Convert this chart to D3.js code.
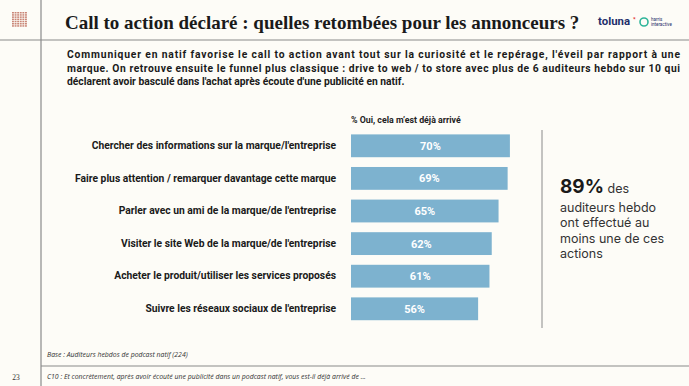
<!DOCTYPE html>
<html>
<head>
<meta charset="utf-8">
<script src="https://cdn.jsdelivr.net/npm/d3@7"></script>
<style>
  body { margin: 0; background: #fdfcf7; }
  svg { display: block; }
</style>
</head>
<body>
<div id="chart"></div>
<script>
const WIDTH = 689, HEIGHT = 386;

// data
const categories = [
    "Chercher des informations sur la marque/l'entreprise",
    "Faire plus attention / remarquer davantage cette marque",
    "Parler avec un ami de la marque/de l'entreprise",
    "Visiter le site Web de la marque/de l'entreprise",
    "Acheter le produit/utiliser les services proposés",
    "Suivre les réseaux sociaux de l'entreprise"
];
const values = [70, 69, 65, 62, 61, 56];

const titleText = "Call to action déclaré : quelles retombées pour les annonceurs ?";
const introLines = [
    "Communiquer en natif favorise le call to action avant tout sur la curiosité et le repérage, l'éveil par rapport à une",
    "marque. On retrouve ensuite le funnel plus classique : drive to web / to store avec plus de 6 auditeurs hebdo sur 10 qui",
    "déclarent avoir basculé dans l'achat après écoute d'une publicité en natif."
];
const seriesLabel = "% Oui, cela m’est déjà arrivé";
const keyFigure = "89%";
const keyLines = ["des", "auditeurs hebdo", "ont effectué au", "moins une de ces", "actions"];
const baseNote = "Base : Auditeurs hebdos de podcast natif (224)";
const questionNote = "C10 :  Et concrètement, après avoir écouté une publicité dans un podcast natif, vous est-il déjà arrivé de ...";
const pageNumber = "23";

const BAR_COLOR = '#7db2cf';
const LINE_COLOR = '#8a8a8a';
const SANS = 'Roboto, "Noto Sans", sans-serif';

const svg = d3.select('#chart').append('svg')
    .attr('width', WIDTH)
    .attr('height', HEIGHT);

svg.append('rect').attr('width', WIDTH).attr('height', HEIGHT).attr('fill', '#fdfcf7');

// frame lines
svg.append('line').attr('x1', 0).attr('x2', WIDTH).attr('y1', 40).attr('y2', 40)
    .attr('stroke', LINE_COLOR).attr('stroke-width', 1.2);
svg.append('line').attr('x1', 41).attr('x2', 41).attr('y1', 0).attr('y2', HEIGHT)
    .attr('stroke', LINE_COLOR).attr('stroke-width', 1.2);
svg.append('line').attr('x1', 41).attr('x2', WIDTH).attr('y1', 366).attr('y2', 366)
    .attr('stroke', LINE_COLOR).attr('stroke-width', 1.2);

// small grid logo top-left
const logo = svg.append('g').attr('transform', 'translate(12,12)');
d3.range(6).forEach(c => d3.range(7).forEach(r => {
    logo.append('rect')
        .attr('x', c * 2.6).attr('y', r * 2.2)
        .attr('width', 1.9).attr('height', 1.5)
        .attr('fill', '#c98576');
}));

// title
svg.append('text')
    .attr('x', 65).attr('y', 29)
    .attr('font-family', '"Liberation Serif", "DejaVu Serif", serif')
    .attr('font-weight', 'bold')
    .attr('font-size', 19)
    .attr('fill', '#1a1a1a')
    .text(titleText);

// brand logos top-right
svg.append('text')
    .attr('x', 598).attr('y', 25)
    .attr('font-family', SANS).attr('font-weight', 'bold').attr('font-size', 10)
    .attr('fill', '#1f2f6b')
    .attr('textLength', 32).attr('lengthAdjust', 'spacingAndGlyphs')
    .text('toluna');
svg.append('text')
    .attr('x', 633).attr('y', 21)
    .attr('font-family', SANS).attr('font-weight', 'bold').attr('font-size', 6)
    .attr('fill', '#e2231a')
    .text('*');
svg.append('circle').attr('cx', 644).attr('cy', 22).attr('r', 4)
    .attr('fill', 'none').attr('stroke', '#2fb59a').attr('stroke-width', 1.6);
svg.append('text').attr('x', 651).attr('y', 20.5)
    .attr('font-family', SANS).attr('font-size', 4.5).attr('fill', '#1f2f6b').text('harris');
svg.append('text').attr('x', 651).attr('y', 25.5)
    .attr('font-family', SANS).attr('font-size', 4.5).attr('fill', '#1f2f6b').text('interactive');

// intro paragraph (justified)
svg.selectAll('.intro')
    .data(introLines)
    .join('text')
    .attr('class', 'intro')
    .attr('x', 67)
    .attr('y', (d, i) => 58 + i * 13.6)
    .attr('font-family', SANS)
    .attr('font-weight', 'bold')
    .attr('font-size', 10.3)
    .attr('fill', '#1a1a1a')
    .each(function(d, i) {
        if (i < introLines.length - 1) {
            d3.select(this).attr('textLength', 613).attr('lengthAdjust', 'spacing');
        }
    })
    .text(d => d);

// scales
const x = d3.scaleLinear()
    .domain([0, 100])
    .range([351, 578]);

const y = d3.scaleBand()
    .domain(categories)
    .range([129.5, 325.1])
    .paddingInner(0.3)
    .paddingOuter(0.15);

const rows = categories.map((c, i) => ({ category: c, value: values[i] }));

// series label
svg.append('text')
    .attr('x', x(0)).attr('y', 123)
    .attr('font-family', SANS).attr('font-weight', 'bold').attr('font-size', 8.8)
    .attr('fill', '#222')
    .text(seriesLabel);

const g = svg.append('g');

g.selectAll('rect.bar')
    .data(rows)
    .join('rect')
    .attr('class', 'bar')
    .attr('x', x(0))
    .attr('y', d => y(d.category))
    .attr('width', d => x(d.value) - x(0))
    .attr('height', y.bandwidth())
    .attr('fill', BAR_COLOR);

g.selectAll('text.value')
    .data(rows)
    .join('text')
    .attr('class', 'value')
    .attr('x', d => (x(0) + x(d.value)) / 2)
    .attr('y', d => y(d.category) + y.bandwidth() / 2)
    .attr('dy', '0.36em')
    .attr('text-anchor', 'middle')
    .attr('font-family', SANS)
    .attr('font-weight', 'bold')
    .attr('font-size', 11)
    .attr('fill', '#ffffff')
    .text(d => d.value + '%');

// category labels
const yAxis = d3.axisLeft(y).tickSize(0).tickPadding(0);
const axisG = svg.append('g')
    .attr('transform', 'translate(336,0)')
    .call(yAxis);
axisG.select('.domain').remove();
axisG.selectAll('text')
    .attr('font-family', SANS)
    .attr('font-weight', 'bold')
    .attr('font-size', 10.3)
    .attr('fill', '#1a1a1a');

// separator
svg.append('line').attr('x1', 542).attr('x2', 542).attr('y1', 130).attr('y2', 328)
    .attr('stroke', LINE_COLOR).attr('stroke-width', 1);

// key figure
const key = svg.append('text')
    .attr('x', 560).attr('y', 193)
    .attr('font-family', 'Inter, "Open Sans", sans-serif')
    .attr('fill', '#1a1a1a');
key.append('tspan').attr('font-weight', 'bold').attr('font-size', 19).text(keyFigure);
key.append('tspan').attr('font-size', 12.5).attr('fill', '#333').text(' ' + keyLines[0]);

svg.selectAll('.keyline')
    .data(keyLines.slice(1))
    .join('text')
    .attr('class', 'keyline')
    .attr('x', 560)
    .attr('y', (d, i) => 212 + i * 15.3)
    .attr('font-family', 'Inter, "Open Sans", sans-serif')
    .attr('font-size', 12.5)
    .attr('fill', '#333')
    .text(d => d);

// footer notes
svg.append('text')
    .attr('x', 47).attr('y', 357)
    .attr('font-family', '"Open Sans", sans-serif').attr('font-style', 'italic')
    .attr('font-size', 6.9).attr('fill', '#333')
    .text(baseNote);
svg.append('text')
    .attr('x', 47).attr('y', 379)
    .attr('font-family', '"Open Sans", sans-serif').attr('font-style', 'italic')
    .attr('font-size', 6.9).attr('fill', '#333')
    .text(questionNote);
svg.append('text')
    .attr('x', 16).attr('y', 380)
    .attr('text-anchor', 'middle')
    .attr('font-family', '"Liberation Serif", serif')
    .attr('font-size', 7.5).attr('fill', '#333')
    .text(pageNumber);
</script>
</body>
</html>
